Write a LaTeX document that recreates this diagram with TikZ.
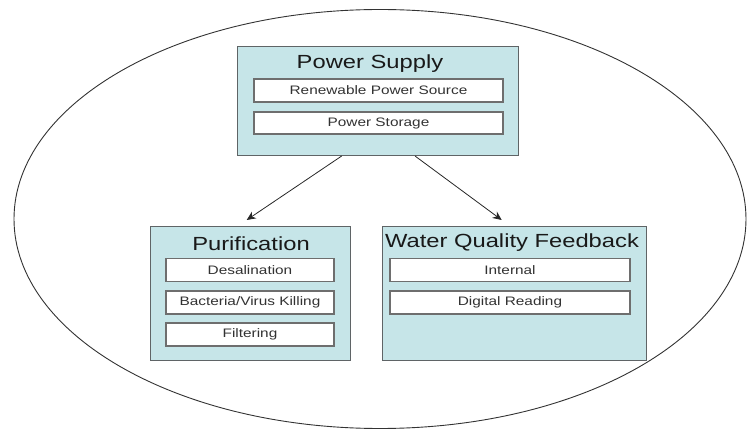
\documentclass[tikz,border=0pt]{standalone}
\usepackage{fontspec}
\setmainfont{Liberation Sans}[FakeStretch=1.25]
\usetikzlibrary{arrows.meta}
\definecolor{boxfill}{RGB}{198,229,232}
\definecolor{boxline}{RGB}{95,100,102}
\definecolor{itemline}{RGB}{110,110,110}
\definecolor{itemtext}{RGB}{50,50,50}
\tikzset{
  outerbox/.style={draw=boxline, line width=1pt, fill=boxfill, rectangle, inner sep=0pt},
  itembox/.style={draw=itemline, line width=1.1pt, fill=white, rectangle, inner sep=0pt,
    minimum height=23pt, font=\fontsize{12.3}{14}\selectfont, text=itemtext},
  titletext/.style={inner sep=0pt, font=\fontsize{19}{22}\selectfont, text=black!90},
  conn/.style={draw=black!85, line width=0.8pt, -{Stealth[length=9pt,width=8pt]}}
}
\begin{document}
\begin{tikzpicture}[x=1pt,y=-1pt]
\useasboundingbox (0,0) rectangle (748,430);
\draw[line width=0.9pt, draw=black!80] (380,219) ellipse [x radius=366, y radius=209.5];

% Power Supply
\node[outerbox, minimum width=281pt, minimum height=109pt] (ps) at (377.5,101.5) {};
\node[titletext] (pst) at (370,64) {Power Supply};
\node[itembox, minimum width=249pt] (ps1) at (378.5,90.5) {Renewable Power Source};
\node[itembox, minimum width=249pt, minimum height=22pt] (ps2) at (378.5,123) {Power Storage};

% Purification
\node[outerbox, minimum width=200pt, minimum height=134pt] (pu) at (250,294) {};
\node[titletext] (put) at (251,244) {Purification};
\node[itembox, minimum width=168pt] (pu1) at (250,270) {Desalination};
\node[itembox, minimum width=168pt] (pu2) at (250,302.5) {Bacteria/Virus Killing};
\node[itembox, minimum width=168pt] (pu3) at (250,334.5) {Filtering};

% Water Quality Feedback
\node[outerbox, minimum width=264pt, minimum height=134pt] (wq) at (514,294) {};
\node[titletext] (wqt) at (512,243) {Water Quality Feedback};
\node[itembox, minimum width=240pt] (wq1) at (510,270) {Internal};
\node[itembox, minimum width=240pt] (wq2) at (510,302.5) {Digital Reading};

% connectors
\coordinate (a1) at (341.7,156);
\coordinate (a2) at (415,156);
\coordinate (b1) at (246.7,220);
\coordinate (b2) at (501.7,220);
\draw[conn] (a1) -- (b1);
\draw[conn] (a2) -- (b2);
\end{tikzpicture}
\end{document}
